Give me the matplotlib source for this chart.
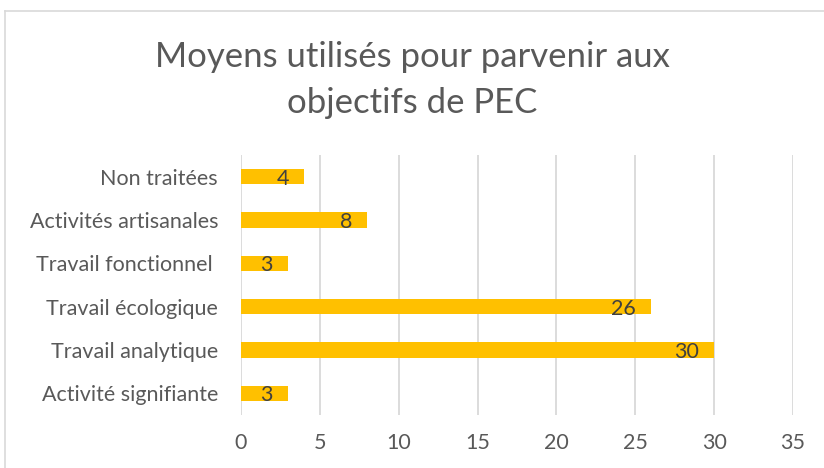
import matplotlib.pyplot as plt
from matplotlib.lines import Line2D

categories = ['Activité signifiante', 'Travail analytique', 'Travail écologique',
              'Travail fonctionnel ', 'Activités artisanales', 'Non traitées']
values = [3, 30, 26, 3, 8, 4]
xticks = [0, 5, 10, 15, 20, 25, 30, 35]

plt.rcParams['font.family'] = ['Lato', 'DejaVu Sans']
grey = '#595959'

fig = plt.figure(figsize=(8.24, 4.68), dpi=100)
ax = fig.add_axes([241 / 824, 1 - 415 / 468, 552 / 824, 260 / 468])

pos = list(range(len(categories)))
bars = ax.barh(pos, values, height=0.35, color='#ffc000', zorder=3)
for b, v in zip(bars, values):
    ax.annotate(str(v), (v, b.get_y() + b.get_height() / 2),
                xytext=(-11, -1.5), textcoords='offset points',
                ha='right', va='center', fontsize=15.5, color='#404040', zorder=4)

ax.set_xlim(0, 35)
ax.set_ylim(-0.5, len(categories) - 0.5)
ax.set_xticks(xticks)
ax.set_yticks(pos)
ax.set_yticklabels(categories)
ax.tick_params(axis='both', length=0, labelsize=15.5, labelcolor=grey)
ax.tick_params(axis='x', pad=13)
ax.tick_params(axis='y', pad=16.5)
ax.grid(axis='x', color='#d9d9d9', linewidth=1.3, zorder=0)
for s in ax.spines.values():
    s.set_visible(False)

fig.text(0.5, 1 - 57 / 468, 'Moyens utilisés pour parvenir aux', ha='center', va='center',
         fontsize=25, color=grey)
fig.text(0.5, 1 - 103 / 468, 'objectifs de PEC', ha='center', va='center',
         fontsize=25, color=grey)

# chart frame (left and top edges visible)
fig.add_artist(Line2D([5 / 824, 5 / 824], [0, 1 - 11 / 468], transform=fig.transFigure,
                      color='#d9d9d9', linewidth=1.2))
fig.add_artist(Line2D([5 / 824, 1], [1 - 11 / 468, 1 - 11 / 468], transform=fig.transFigure,
                      color='#d9d9d9', linewidth=1.2))

fig.savefig('out.png', dpi=100)
